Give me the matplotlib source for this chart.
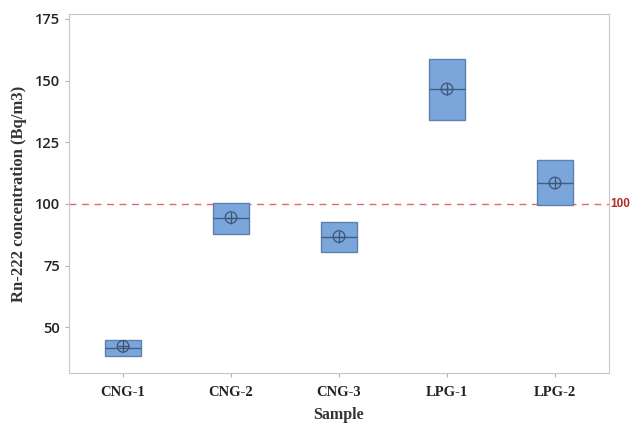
import numpy as np
import matplotlib.pyplot as plt

# data (Bq/m3)
samples = ["CNG-1", "CNG-2", "CNG-3", "LPG-1", "LPG-2"]
q1 = [38.5, 87.8, 80.4, 134.2, 99.4]
q3 = [44.8, 100.4, 92.6, 158.8, 117.7]
medians = [41.6, 94.3, 86.5, 146.5, 108.4]
means = [42.3, 94.5, 86.8, 146.6, 108.5]
ref_value = 100

fig = plt.figure(figsize=(6.3, 4.23), dpi=100)
ax = fig.add_axes([69 / 630, 1 - 373 / 423, 540 / 630, 359 / 423])

box_color = "#7aa6db"
edge_color = "#5f80a8"

stats = []
for s, lo, md, hi in zip(samples, q1, medians, q3):
    stats.append({"label": s, "q1": lo, "med": md, "q3": hi,
                  "whislo": lo, "whishi": hi, "fliers": []})

pos = np.arange(len(samples))
ax.bxp(stats, positions=pos, widths=0.34, patch_artist=True, showcaps=False,
       boxprops=dict(facecolor=box_color, edgecolor=edge_color, linewidth=1.0),
       medianprops=dict(color="#3f5f86", linewidth=1.0),
       whiskerprops=dict(linewidth=0))

# mean symbol (circle with cross)
ax.scatter(pos, means, s=70, facecolors="none", edgecolors="#3f5570", linewidths=0.9, zorder=4)
ax.scatter(pos, means, s=70, marker="+", color="#3f5570", linewidths=0.9, zorder=4)

# reference line
ax.axhline(ref_value, color="#e8686a", linestyle=(0, (5, 4)), linewidth=1.0, zorder=1)
ax.text(1.003, ref_value, "100", transform=ax.get_yaxis_transform(), color="#b02a2a",
        fontsize=8.5, fontweight="bold", va="center", ha="left", family="Liberation Sans")

ax.set_xlim(-0.5, 4.5)
ax.set_ylim(31.5, 177)
ax.set_yticks([50, 75, 100, 125, 150, 175])
ax.set_xticks(pos)
ax.set_xticklabels(samples, family="Liberation Serif", fontweight="bold", fontsize=10.5)
for lab in ax.get_yticklabels():
    lab.set_family("Open Sans")
    lab.set_fontsize(10.5)
    lab.set_fontweight("semibold")

for sp in ax.spines.values():
    sp.set_color("#c8c8c8")
ax.tick_params(colors="#b0b0b0", labelcolor="#222222", length=3)
ax.tick_params(axis="x", pad=6)

ax.set_xlabel("Sample", family="Liberation Serif", fontweight="bold", fontsize=11.5,
              color="#333333", labelpad=6)
ax.set_ylabel("Rn-222 concentration (Bq/m3)", family="Liberation Serif", fontweight="bold",
              fontsize=12, color="#333333", labelpad=6)

fig.savefig("out.png", dpi=100)
